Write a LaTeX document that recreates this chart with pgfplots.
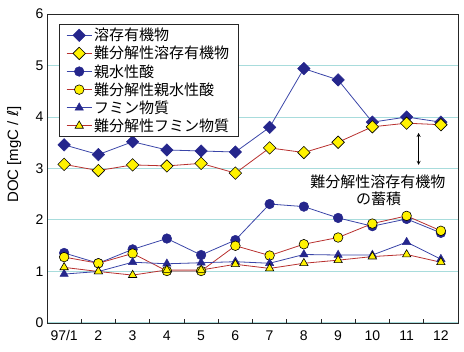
\documentclass[border=0pt]{standalone}
\usepackage{pgfplots}
\pgfplotsset{compat=1.18}
\usepackage{fontspec}
\setmainfont{Liberation Sans}
\newfontfamily\jp{Noto Sans CJK JP}
\newfontfamily\dejavu{DejaVu Sans}
\definecolor{navy}{HTML}{25268C}
\definecolor{navyline}{HTML}{3A45A8}
\definecolor{redline}{HTML}{B8312F}
\definecolor{yel}{HTML}{FFF200}
\definecolor{gridc}{HTML}{A8DCDC}
\begin{document}
\begin{tikzpicture}
\useasboundingbox (0,0) rectangle (464bp,352bp);
\begin{axis}[
  at={(47bp,29bp)}, anchor=south west,
  scale only axis, width=411bp, height=309bp,
  xmin=0.5, xmax=12.5, ymin=0, ymax=6,
  xtick={1,...,12},
  xticklabels={97/1,2,3,4,5,6,7,8,9,10,11,12},
  minor xtick={1.5,2.5,...,11.5},
  ytick={0,...,6},
  major tick length=0pt, minor tick length=4bp,
  tick align=inside, xtick pos=lower, ytick pos=left,
  ymajorgrids, grid style={gridc, line width=1bp},
  axis line style={black!85, line width=0.9bp},
  every tick/.style={black!85, line width=0.8bp},
  /pgf/number format/assume math mode=true,
  tick label style={font=\fontsize{14bp}{16bp}\selectfont},
  xticklabel style={yshift=-4bp},
  ylabel={DOC [mgC / {\dejavu\itshape ℓ}]},
  ylabel style={at={(axis description cs:-0.080,0.545)}, anchor=center, font=\fontsize{15bp}{16bp}\selectfont},
  legend cell align=left,
  legend style={at={(axis description cs:0.029,0.968)}, anchor=north west,
    draw=black!85, line width=0.8bp, fill=white,
    font=\jp\fontsize{15bp}{16bp}\selectfont, row sep=0bp,
    inner xsep=7bp, inner ysep=2bp},
  legend image code/.code={\draw[mark repeat=2,mark phase=2] plot coordinates {(0bp,0bp)(12.5bp,0bp)(25bp,0bp)};},
  navys/.style={color=navyline, line width=0.8bp},
  yels/.style={color=redline, line width=0.8bp},
]
\addplot[navys, mark=square*, mark size=4.4bp, mark options={rotate=45, fill=navy, draw=navy, line width=0.5bp}] coordinates {
(1,3.46)(2,3.27)(3,3.52)(4,3.36)(5,3.34)(6,3.32)(7,3.80)(8,4.94)(9,4.72)(10,3.90)(11,4.00)(12,3.90)};
\addlegendentry{溶存有機物}
\addplot[yels, mark=square*, mark size=4.4bp, mark options={rotate=45, fill=yel, draw=black, line width=0.6bp}] coordinates {
(1,3.08)(2,2.96)(3,3.07)(4,3.05)(5,3.10)(6,2.91)(7,3.40)(8,3.31)(9,3.51)(10,3.81)(11,3.88)(12,3.85)};
\addlegendentry{難分解性溶存有機物}
\addplot[navys, mark=*, mark size=4.8bp, mark options={fill=navy, draw=navy, line width=0.5bp}] coordinates {
(1,1.36)(2,1.16)(3,1.43)(4,1.64)(5,1.32)(6,1.61)(7,2.31)(8,2.26)(9,2.04)(10,1.88)(11,2.02)(12,1.75)};
\addlegendentry{親水性酸}
\addplot[yels, mark=*, mark size=4.8bp, mark options={fill=yel, draw=black, line width=0.6bp}] coordinates {
(1,1.28)(2,1.16)(3,1.35)(4,1.01)(5,1.01)(6,1.50)(7,1.31)(8,1.53)(9,1.66)(10,1.93)(11,2.08)(12,1.79)};
\addlegendentry{難分解性親水性酸}
\addplot[navys, mark=triangle*, mark size=4.8bp, mark options={fill=navy, draw=navy, line width=0.5bp}] coordinates {
(1,0.95)(2,1.00)(3,1.18)(4,1.15)(5,1.17)(6,1.19)(7,1.16)(8,1.33)(9,1.32)(10,1.32)(11,1.57)(12,1.24)};
\addlegendentry{フミン物質}
\addplot[yels, mark=triangle*, mark size=4.8bp, mark options={fill=yel, draw=black, line width=0.6bp}] coordinates {
(1,1.08)(2,1.00)(3,0.93)(4,1.03)(5,1.03)(6,1.14)(7,1.06)(8,1.16)(9,1.22)(10,1.29)(11,1.33)(12,1.18)};
\addlegendentry{難分解性フミン物質}
\draw[<->, >=stealth, line width=0.8bp] (axis cs:11.35,3.69) -- (axis cs:11.35,3.07);
\node[font=\jp\fontsize{15bp}{16bp}\selectfont] at (axis cs:10.16,2.74) {難分解性溶存有機物};
\node[font=\jp\fontsize{15bp}{16bp}\selectfont] at (axis cs:10.18,2.41) {の蓄積};
\end{axis}
\end{tikzpicture}
\end{document}
